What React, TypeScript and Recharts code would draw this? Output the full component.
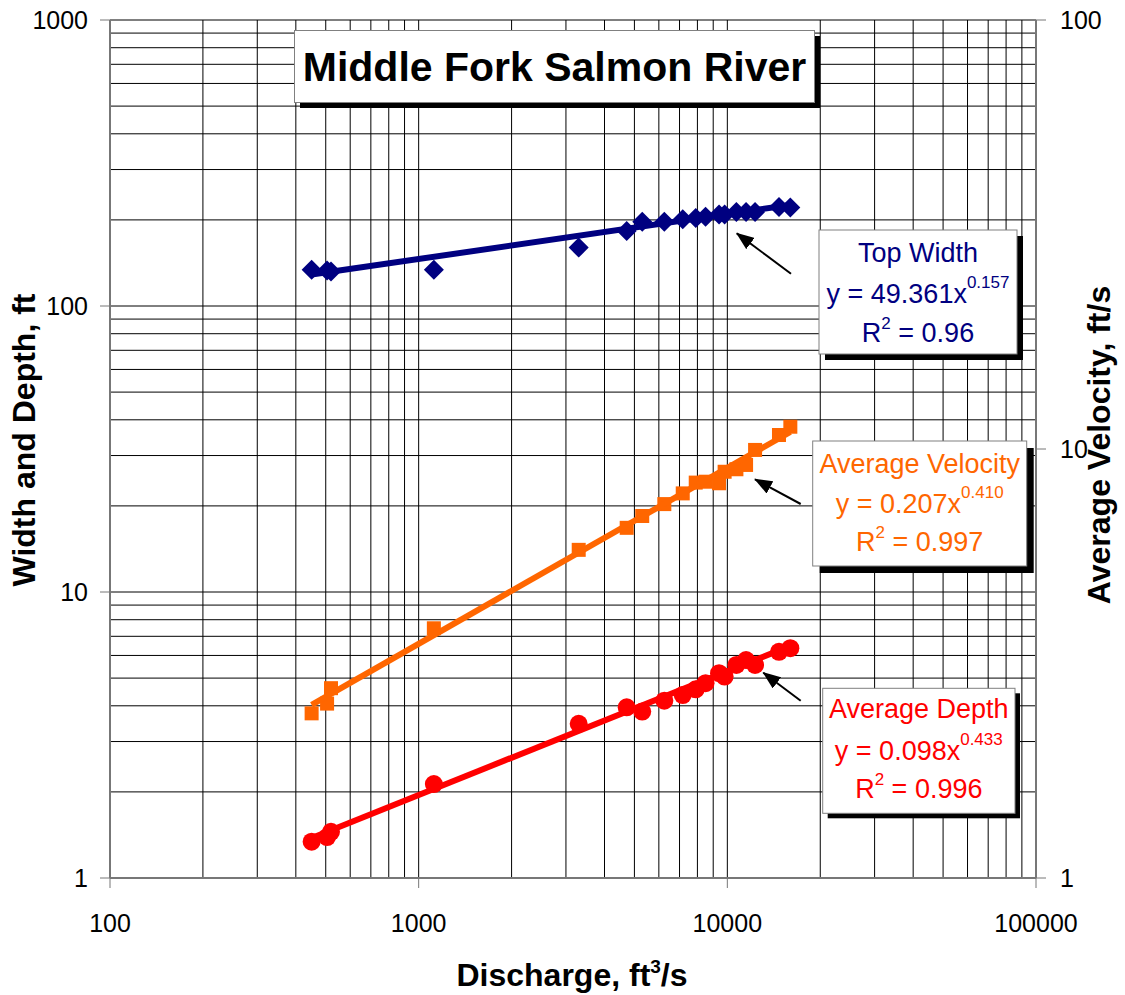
import React from 'react';
import {
  ComposedChart,
  Scatter,
  XAxis,
  YAxis,
  CartesianGrid,
} from 'recharts';

// Discharge (ft3/s) for each measurement
const discharge = [450, 505, 520, 1120, 3300, 4720, 5300, 6250, 7170, 7900, 8500, 9400, 9800, 10700, 11500, 12300, 14700, 16000];
// Top width (ft), left axis
const topWidth = [134, 133, 132, 134, 160, 183, 197, 197, 201, 203, 205, 209, 209, 213, 213, 213, 222, 221];
// Average velocity (ft/s), right axis
const avgVelocity = [2.42, 2.55, 2.77, 3.82, 5.82, 6.55, 6.98, 7.44, 7.88, 8.35, 8.39, 8.32, 8.85, 8.97, 9.18, 9.95, 10.78, 11.27];
// Average depth (ft), left axis
const avgDepth = [1.34, 1.39, 1.45, 2.13, 3.46, 3.95, 3.82, 4.17, 4.36, 4.57, 4.8, 5.2, 5.06, 5.56, 5.78, 5.56, 6.18, 6.36];

// power-law fits y = a * x^b
const widthFit = { a: 49.361, b: 0.157, r2: '0.96' };
const velocityFit = { a: 0.207, b: 0.41, r2: '0.997' };
const depthFit = { a: 0.098, b: 0.433, r2: '0.996' };

const xTicks = [100, 1000, 10000, 100000];
const leftTicks = [1, 10, 100, 1000];
const rightTicks = [1, 10, 100];

const NAVY = '#000080';
const ORANGE = '#FF6600';
const RED = '#FF0000';
const FONT = '"Liberation Sans", Arial, sans-serif';

const logGrid = (from: number, to: number) => {
  const out: number[] = [];
  for (let d = from; d < to; d *= 10) {
    for (let m = 1; m <= 9; m++) out.push(d * m);
  }
  out.push(to);
  return out;
};
const xGrid = logGrid(100, 100000);
const yGrid = logGrid(1, 1000);

// position inside the plot box on a log axis, 0..1
const logFrac = (v: number, lo: number, hi: number) =>
  (Math.log10(v) - Math.log10(lo)) / (Math.log10(hi) - Math.log10(lo));

const pts = (ys: number[]) => discharge.map((q, i) => ({ q, v: ys[i] }));
const fitLine = (f: { a: number; b: number }) => {
  const ends = [discharge[0], discharge[discharge.length - 1]];
  return ends.map((q) => ({ q, v: f.a * Math.pow(q, f.b) }));
};

const Diamond = (p: any) => {
  const { cx, cy } = p;
  const s = 10;
  return <polygon points={`${cx},${cy - s} ${cx + s},${cy} ${cx},${cy + s} ${cx - s},${cy}`} fill={NAVY} />;
};
const Square = (p: any) => <rect x={p.cx - 7} y={p.cy - 7} width={14} height={14} fill={ORANGE} />;
const Dot = (p: any) => <circle cx={p.cx} cy={p.cy} r={9} fill={RED} />;
const NoShape = () => <g />;

const tickStyle = { fontSize: 25, fill: '#000', fontFamily: FONT };
const axisLine = { stroke: '#777', strokeWidth: 2 };

function EqBox({ x, y, w, h, shadow, color, lines, cx, title, coef, exp, r2 }: any) {
  return (
    <g>
      <rect x={x + shadow} y={y + shadow} width={w} height={h} fill="#000" />
      <rect x={x} y={y} width={w} height={h} fill="#fff" stroke="#808080" strokeWidth={1} />
      <text x={cx} y={lines[0]} textAnchor="middle" fontSize={27} fill={color} fontFamily={FONT}>{title}</text>
      <text x={cx} y={lines[1]} textAnchor="middle" fontSize={27} fill={color} fontFamily={FONT}>
        {`y = ${coef}x`}
        <tspan fontSize={17} dy={-15}>{exp}</tspan>
      </text>
      <text x={cx} y={lines[2]} textAnchor="middle" fontSize={27} fill={color} fontFamily={FONT}>
        R<tspan fontSize={17} dy={-13}>2</tspan>
        <tspan dy={13}> = {r2}</tspan>
      </text>
    </g>
  );
}

function Arrow({ x1, y1, x2, y2 }: any) {
  return <line x1={x1} y1={y1} x2={x2} y2={y2} stroke="#000" strokeWidth={2} markerEnd="url(#head)" />;
}

export default function App() {
  return (
    <div style={{ position: 'absolute', left: 0, top: 0, width: 1125, height: 995, background: '#fff' }}>
      <ComposedChart width={1125} height={995} margin={{ top: 20, right: 0, bottom: 0, left: 0 }}>
        <CartesianGrid
          yAxisId="left"
          stroke="#000"
          strokeWidth={1}
          verticalCoordinatesGenerator={({ offset }: any) =>
            xGrid.map((v) => offset.left + logFrac(v, 100, 100000) * offset.width)
          }
          horizontalCoordinatesGenerator={({ offset }: any) =>
            yGrid.map((v) => offset.top + (1 - logFrac(v, 1, 1000)) * offset.height)
          }
        />
        <XAxis
          dataKey="q"
          type="number"
          scale="log"
          domain={[100, 100000]}
          ticks={xTicks}
          interval={0}
          allowDataOverflow
          height={117}
          tick={tickStyle}
          tickSize={10}
          tickMargin={26}
          axisLine={axisLine}
          tickLine={{ stroke: '#777' }}
        />
        <YAxis
          yAxisId="left"
          dataKey="v"
          type="number"
          scale="log"
          domain={[1, 1000]}
          ticks={leftTicks}
          interval={0}
          allowDataOverflow
          width={110}
          tick={tickStyle}
          tickSize={10}
          tickMargin={12}
          axisLine={axisLine}
          tickLine={{ stroke: '#777' }}
        />
        <YAxis
          yAxisId="right"
          orientation="right"
          dataKey="v"
          type="number"
          scale="log"
          domain={[1, 100]}
          ticks={rightTicks}
          interval={0}
          allowDataOverflow
          width={89}
          tick={tickStyle}
          tickSize={10}
          tickMargin={14}
          axisLine={axisLine}
          tickLine={{ stroke: '#777' }}
        />

        <Scatter yAxisId="left" data={pts(topWidth)} shape={Diamond} isAnimationActive={false} />
        <Scatter yAxisId="right" data={pts(avgVelocity)} shape={Square} isAnimationActive={false} />
        <Scatter yAxisId="left" data={pts(avgDepth)} shape={Dot} isAnimationActive={false} />

        <Scatter yAxisId="left" data={fitLine(widthFit)} shape={NoShape} line={{ stroke: NAVY, strokeWidth: 6 }} isAnimationActive={false} />
        <Scatter yAxisId="right" data={fitLine(velocityFit)} shape={NoShape} line={{ stroke: ORANGE, strokeWidth: 6 }} isAnimationActive={false} />
        <Scatter yAxisId="left" data={fitLine(depthFit)} shape={NoShape} line={{ stroke: RED, strokeWidth: 6 }} isAnimationActive={false} />
      </ComposedChart>

      <svg width={1125} height={995} style={{ position: 'absolute', left: 0, top: 0, pointerEvents: 'none' }}>
        <defs>
          <marker id="head" viewBox="0 0 18 14" refX="17" refY="7" markerWidth="18" markerHeight="14"
            markerUnits="userSpaceOnUse" orient="auto">
            <path d="M0,0 L18,7 L0,14 z" fill="#000" />
          </marker>
        </defs>

        {/* chart title */}
        <rect x={300} y={36} width={520} height={72} fill="#000" />
        <rect x={294.5} y={30.5} width={520} height={72} fill="#fff" stroke="#808080" />
        <text x={554.5} y={80.5} textAnchor="middle" fontSize={41} fontWeight="bold" fontFamily={FONT}>
          Middle Fork Salmon River
        </text>

        <EqBox x={819} y={230} w={198} h={124} shadow={6} color={NAVY} cx={918} lines={[262, 303, 341.5]}
          title="Top Width" coef={widthFit.a.toFixed(3)} exp={widthFit.b.toFixed(3)} r2={widthFit.r2} />
        <EqBox x={812.7} y={441} w={214} h={125} shadow={7} color={ORANGE} cx={919.7} lines={[473.3, 512.7, 550.7]}
          title="Average Velocity" coef={velocityFit.a.toFixed(3)} exp={velocityFit.b.toFixed(3)} r2={velocityFit.r2} />
        <EqBox x={822.7} y={688.3} w={192.3} h={125} shadow={5} color={RED} cx={918.8} lines={[718.3, 760, 798.3]}
          title="Average Depth" coef={depthFit.a.toFixed(3)} exp={depthFit.b.toFixed(3)} r2={depthFit.r2} />

        <Arrow x1={791} y1={273.7} x2={736.8} y2={233.4} />
        <Arrow x1={800.7} y1={504} x2={755} y2={479.3} />
        <Arrow x1={800.7} y1={700.7} x2={763.3} y2={672.7} />

        {/* axis titles */}
        <text transform="translate(35,440) rotate(-90)" textAnchor="middle" fontSize={32} fontWeight="bold" fontFamily={FONT}>
          Width and Depth, ft
        </text>
        <text transform="translate(1110,445) rotate(-90)" textAnchor="middle" fontSize={32} fontWeight="bold" fontFamily={FONT}>
          Average Velocity, ft/s
        </text>
        <text x={572} y={986} textAnchor="middle" fontSize={32} fontWeight="bold" fontFamily={FONT}>
          Discharge, ft<tspan fontSize={19} dy={-13}>3</tspan>
          <tspan dy={13}>/s</tspan>
        </text>
      </svg>
    </div>
  );
}
